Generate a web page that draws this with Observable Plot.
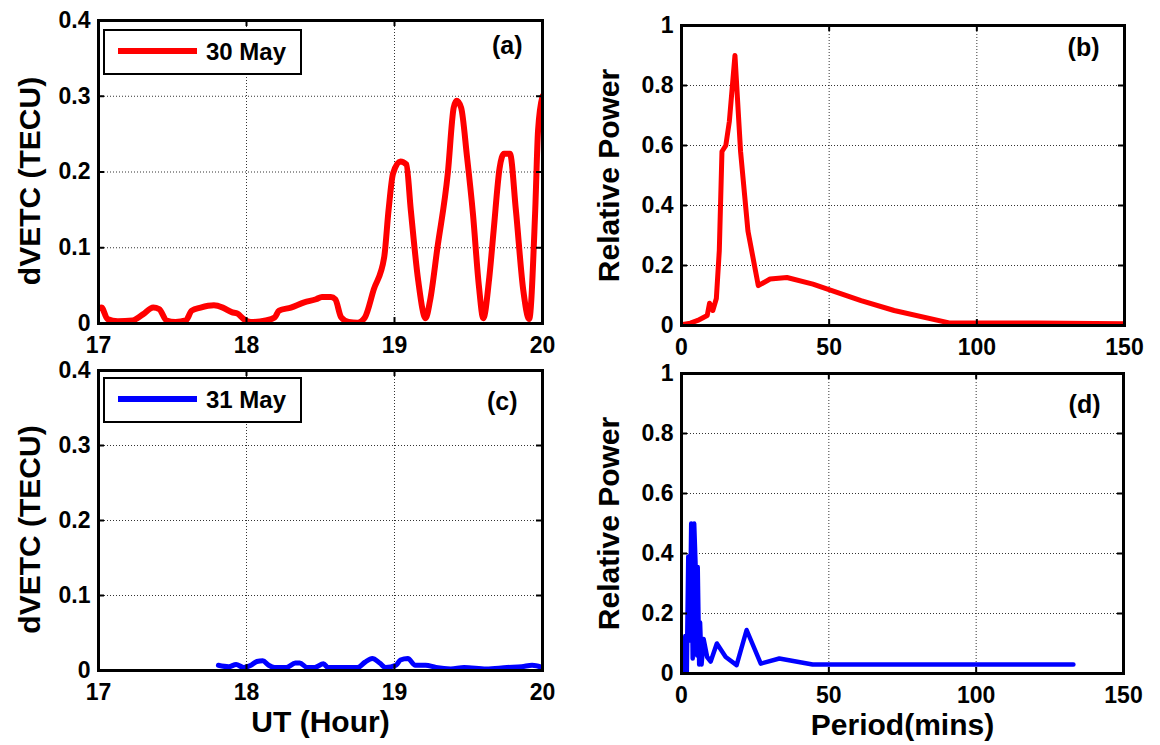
<!DOCTYPE html>
<html>
<head>
<meta charset="utf-8">
<script src="https://cdn.jsdelivr.net/npm/d3@7"></script>
<script src="https://cdn.jsdelivr.net/npm/@observablehq/plot@0.6/dist/plot.umd.min.js"></script>
<style>
  html, body { margin: 0; padding: 0; background: #fff; }
  #fig { position: relative; width: 1160px; height: 745px; background: #fff; font-family: "Liberation Sans", Arial, sans-serif; font-weight: bold; }
  .panel { position: absolute; }
  .legend { position: absolute; box-sizing: border-box; border: 2.5px solid #000; background: #fff; width: 199px; height: 46px; }
  .legend .ln { position: absolute; left: 13px; width: 79px; height: 6px; top: 17px; }
  .legend .tx { position: absolute; left: 101px; top: 7px; font-size: 24px; line-height: 28px; color: #000; }
</style>
</head>
<body>
<div id="fig"></div>
<script>
// ---------- data ----------
const utTicks = [17, 18, 19, 20];
const dvetcTicks = [0, 0.1, 0.2, 0.3, 0.4];
const periodTicks = [0, 50, 100, 150];
const powerTicks = [0, 0.2, 0.4, 0.6, 0.8, 1];

// (a) 30 May dVETC
const utMay30 = [17.0, 17.02, 17.06, 17.13, 17.23, 17.30, 17.37, 17.41, 17.46, 17.52, 17.59, 17.63, 17.69, 17.78, 17.84, 17.90, 17.94, 17.98, 18.03, 18.13, 18.19, 18.22, 18.30, 18.39, 18.47, 18.51, 18.57, 18.60, 18.64, 18.69, 18.75, 18.80, 18.86, 18.93, 18.96, 18.99, 19.04, 19.08, 19.11, 19.16, 19.21, 19.24, 19.29, 19.36, 19.40, 19.42, 19.45, 19.49, 19.53, 19.57, 19.60, 19.64, 19.67, 19.71, 19.74, 19.78, 19.82, 19.87, 19.91, 19.95, 19.97, 20.0];
const dvetcMay30 = [0.020, 0.021, 0.006, 0.003, 0.004, 0.012, 0.021, 0.019, 0.004, 0.002, 0.004, 0.017, 0.021, 0.024, 0.021, 0.015, 0.013, 0.006, 0.002, 0.004, 0.008, 0.017, 0.021, 0.028, 0.032, 0.035, 0.035, 0.032, 0.008, 0.002, 0.001, 0.008, 0.045, 0.087, 0.150, 0.198, 0.214, 0.210, 0.150, 0.057, 0.007, 0.030, 0.100, 0.198, 0.285, 0.294, 0.285, 0.220, 0.145, 0.050, 0.007, 0.060, 0.123, 0.205, 0.224, 0.224, 0.150, 0.044, 0.006, 0.145, 0.255, 0.300];

// (b) 30 May spectrum
const periodMay30 = [0, 3, 5.5, 8.7, 9.5, 10.6, 11.8, 12.8, 13.7, 15, 16.2, 18.1, 20, 22.5, 26, 30, 35.7, 44.5, 60.8, 72, 91, 120, 150];
const powerMay30 = [0.003, 0.008, 0.017, 0.033, 0.074, 0.05, 0.09, 0.25, 0.58, 0.60, 0.68, 0.90, 0.58, 0.315, 0.133, 0.155, 0.16, 0.138, 0.083, 0.05, 0.008, 0.008, 0.006];

// (c) 31 May dVETC
const utMay31 = [17.81, 17.88, 17.93, 17.98, 18.03, 18.07, 18.11, 18.15, 18.19, 18.27, 18.33, 18.36, 18.41, 18.46, 18.52, 18.55, 18.65, 18.75, 18.80, 18.85, 18.90, 18.94, 19.01, 19.04, 19.09, 19.14, 19.21, 19.28, 19.38, 19.47, 19.62, 19.76, 19.86, 19.93, 20.0];
const dvetcMay31 = [0.007, 0.005, 0.008, 0.004, 0.007, 0.012, 0.013, 0.007, 0.004, 0.004, 0.010, 0.010, 0.004, 0.004, 0.009, 0.004, 0.004, 0.004, 0.011, 0.016, 0.010, 0.004, 0.007, 0.014, 0.016, 0.007, 0.007, 0.004, 0.002, 0.004, 0.002, 0.004, 0.005, 0.007, 0.004];

// (d) 31 May spectrum
const periodMay31 = [0.5, 1.3, 1.8, 2.3, 2.8, 3.3, 3.8, 4.3, 4.8, 5.3, 5.5, 6.0, 6.3, 6.8, 7.5, 8.7, 9.9, 12, 15, 18.7, 22.1, 26.9, 33.2, 44.5, 133];
const powerMay31 = [0.003, 0.125, 0.005, 0.39, 0.11, 0.50, 0.05, 0.50, 0.355, 0.06, 0.355, 0.03, 0.17, 0.03, 0.115, 0.055, 0.04, 0.10, 0.055, 0.028, 0.145, 0.033, 0.05, 0.03, 0.03];

const legends = [{label: "30 May", color: "#ff0000"}, {label: "31 May", color: "#0000ff"}];

// ---------- drawing ----------
const fmt = d3.format("~g");
const FONT = "'Liberation Sans', Arial, Helvetica, sans-serif";
const fig = document.getElementById("fig");

function panel({left, top, width, height, mt, mr, mb, ml, xDomain, yDomain, xTicks, yTicks, xs, ys, color, lw, curve, tag, tagDx, tagDy, ylabel, ylabelDx, ylabelDy, xlabel}) {
  const H = height - mt - mb;
  const W = width - ml - mr;
  const data = xs.map((x, i) => ({x, y: ys[i]}));
  const marks = [
    Plot.gridX(xTicks, {stroke: "#333", strokeOpacity: 1, strokeWidth: 1, strokeDasharray: "1,2"}),
    Plot.gridY(yTicks, {stroke: "#333", strokeOpacity: 1, strokeWidth: 1, strokeDasharray: "1,2"}),
    Plot.axisX(xTicks, {tickSize: 0, tickPadding: 13, tickFormat: fmt, label: null, fontSize: 23}),
    Plot.axisY(yTicks, {tickSize: 0, tickPadding: 8, tickFormat: fmt, label: null, fontSize: 23}),
    Plot.line(data, {x: "x", y: "y", stroke: color, strokeWidth: lw, strokeLinejoin: "round", curve, clip: true}),
    Plot.tickX(xTicks, {x: d => d, insetTop: H - 6, stroke: "#000", strokeWidth: 2}),
    Plot.tickX(xTicks, {x: d => d, insetBottom: H - 6, stroke: "#000", strokeWidth: 2}),
    Plot.tickY(yTicks, {y: d => d, insetRight: W - 6, stroke: "#000", strokeWidth: 2}),
    Plot.tickY(yTicks, {y: d => d, insetLeft: W - 6, stroke: "#000", strokeWidth: 2}),
    Plot.frame({stroke: "#000", strokeWidth: 3}),
    Plot.text([tag], {frameAnchor: "top-right", dx: tagDx, dy: tagDy, textAnchor: "end", lineAnchor: "middle", fontSize: 25, fontWeight: "bold"}),
    Plot.text([ylabel], {frameAnchor: "left", rotate: -90, dx: ylabelDx, dy: ylabelDy, textAnchor: "middle", lineAnchor: "middle", fontSize: 30, fontWeight: "bold"})
  ];
  if (xlabel) marks.push(Plot.text([xlabel], {frameAnchor: "bottom", dy: 52, textAnchor: "middle", lineAnchor: "middle", fontSize: 30, fontWeight: "bold"}));
  const svg = Plot.plot({
    width, height,
    marginTop: mt, marginRight: mr, marginBottom: mb, marginLeft: ml,
    x: {domain: xDomain},
    y: {domain: yDomain},
    style: {fontFamily: FONT, fontSize: "23px", fontWeight: "bold", color: "#000", background: "transparent", overflow: "visible"},
    marks
  });
  svg.classList.add("panel");
  svg.style.left = left + "px";
  svg.style.top = top + "px";
  fig.appendChild(svg);
}

panel({left: 0, top: 0, width: 580, height: 360, mt: 20, mr: 38, mb: 37, ml: 98,
  xDomain: [17, 20], yDomain: [0, 0.4], xTicks: utTicks, yTicks: dvetcTicks,
  xs: utMay30, ys: dvetcMay30, color: "#ff0000", lw: 6, curve: "monotone-x", tag: "(a)", tagDx: -20, tagDy: 25,
  ylabel: "dVETC (TECU)", ylabelDx: -68, ylabelDy: 9});

panel({left: 580, top: 0, width: 580, height: 360, mt: 25, mr: 36, mb: 35, ml: 101,
  xDomain: [0, 150], yDomain: [0, 1], xTicks: periodTicks, yTicks: powerTicks,
  xs: periodMay30, ys: powerMay30, color: "#ff0000", lw: 5, curve: "linear", tag: "(b)", tagDx: -25, tagDy: 22,
  ylabel: "Relative Power", ylabelDx: -72, ylabelDy: 0});

panel({left: 0, top: 360, width: 580, height: 385, mt: 10, mr: 38, mb: 75, ml: 98,
  xDomain: [17, 20], yDomain: [0, 0.4], xTicks: utTicks, yTicks: dvetcTicks,
  xs: utMay31, ys: dvetcMay31, color: "#0000ff", lw: 5, curve: "monotone-x", tag: "(c)", tagDx: -25, tagDy: 31,
  ylabel: "dVETC (TECU)", ylabelDx: -68, ylabelDy: 9, xlabel: "UT (Hour)"});

panel({left: 580, top: 360, width: 580, height: 385, mt: 13, mr: 37, mb: 72, ml: 101,
  xDomain: [0, 150], yDomain: [0, 1], xTicks: periodTicks, yTicks: powerTicks,
  xs: periodMay31, ys: powerMay31, color: "#0000ff", lw: 4.5, curve: "linear", tag: "(d)", tagDx: -23, tagDy: 31,
  ylabel: "Relative Power", ylabelDx: -72, ylabelDy: 0, xlabel: "Period(mins)"});

// legends
[[legends[0], 103, 29], [legends[1], 103, 377]].forEach(([lg, x, y]) => {
  const box = document.createElement("div");
  box.className = "legend";
  box.style.left = x + "px";
  box.style.top = y + "px";
  const ln = document.createElement("div");
  ln.className = "ln";
  ln.style.background = lg.color;
  const tx = document.createElement("div");
  tx.className = "tx";
  tx.textContent = lg.label;
  box.appendChild(ln); box.appendChild(tx);
  fig.appendChild(box);
});
</script>
</body>
</html>
